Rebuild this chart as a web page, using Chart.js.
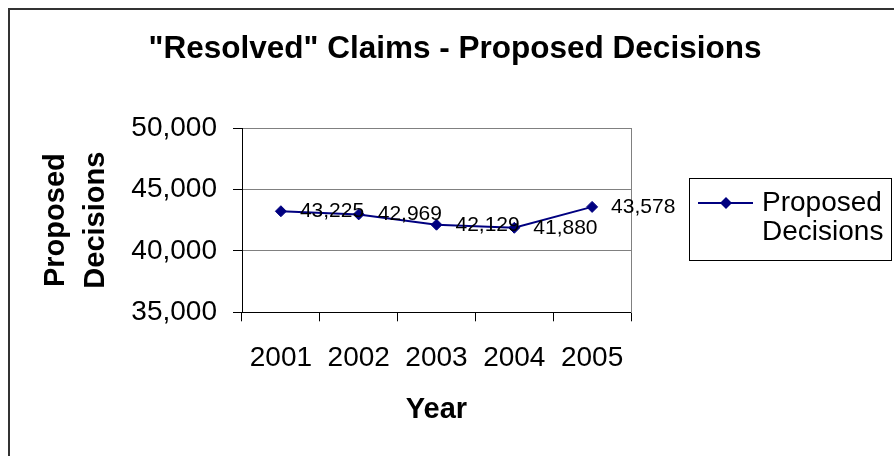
<!DOCTYPE html>
<html>
<head>
<meta charset="utf-8">
<script src="https://cdn.jsdelivr.net/npm/chart.js@4/dist/chart.umd.min.js"></script>
<style>
  html, body { margin: 0; padding: 0; background: #fff; overflow: hidden; }
  #frame { position: absolute; left: 8px; top: 8px; border: 2px solid #333; background: #fff; }
  canvas { display: block; }
</style>
</head>
<body>
<div id="frame"><canvas id="chart" width="890" height="446"></canvas></div>
<script>
// Daten
const jahre = ["2001", "2002", "2003", "2004", "2005"];
const entscheidungen = [43225, 42969, 42129, 41880, 43578];
const serienName = "Proposed Decisions";
const yMin = 35000, yMax = 50000, yStep = 5000;

const schrift = "'Liberation Sans', Arial, sans-serif";
const navy = "#000080";
const fmt = v => Number(v).toLocaleString("en-US");

// Werte neben die Punkte schreiben
const wertLabels = {
  id: "wertLabels",
  afterDatasetsDraw(chart) {
    const ctx = chart.ctx;
    const meta = chart.getDatasetMeta(0);
    ctx.save();
    ctx.font = "21px " + schrift;
    ctx.fillStyle = "#000";
    ctx.textAlign = "left";
    ctx.textBaseline = "middle";
    meta.data.forEach((pt, i) => {
      ctx.fillText(fmt(chart.data.datasets[0].data[i]), pt.x + 19, pt.y);
    });
    ctx.restore();
  }
};

// Legende mit Rahmen (zweizeilig wie im Original)
const kastenLegende = {
  id: "kastenLegende",
  afterDraw(chart) {
    const ctx = chart.ctx;
    const ds = chart.data.datasets[0];
    ctx.save();
    ctx.strokeStyle = "#000";
    ctx.lineWidth = 1;
    ctx.strokeRect(679.5, 168.5, 202, 82);
    ctx.strokeStyle = ds.borderColor;
    ctx.lineWidth = 2;
    ctx.beginPath();
    ctx.moveTo(688, 193);
    ctx.lineTo(743, 193);
    ctx.stroke();
    ctx.fillStyle = ds.backgroundColor;
    ctx.beginPath();
    ctx.moveTo(716, 187); ctx.lineTo(722, 193); ctx.lineTo(716, 199); ctx.lineTo(710, 193);
    ctx.closePath();
    ctx.fill();
    ctx.fillStyle = "#000";
    ctx.font = "28px " + schrift;
    ctx.textAlign = "left";
    ctx.textBaseline = "middle";
    const teile = ds.label.split(" ");
    ctx.fillText(teile[0], 752, 193);
    ctx.fillText(teile[1], 752, 222);
    ctx.restore();
  }
};

new Chart(document.getElementById("chart"), {
  type: "line",
  data: {
    labels: jahre,
    datasets: [{
      label: serienName,
      data: entscheidungen,
      borderColor: navy,
      backgroundColor: navy,
      borderWidth: 2,
      pointStyle: "rectRot",
      pointRadius: 5.5,
      pointBorderWidth: 1,
      tension: 0
    }]
  },
  options: {
    responsive: false,
    animation: false,
    devicePixelRatio: 1,
    layout: { padding: 0 },
    plugins: {
      legend: { display: false },
      tooltip: { enabled: false },
      title: {
        display: true,
        text: "\"Resolved\" Claims - Proposed Decisions",
        color: "#000",
        font: { family: schrift, size: 31.5, weight: "bold", lineHeight: 1.2 },
        padding: { top: 20, bottom: 60.2 }
      }
    },
    scales: {
      x: {
        offset: true,
        grid: {
          offset: true,
          drawOnChartArea: false,
          tickColor: "#000",
          tickLength: 9
        },
        border: { display: true, color: "#000", width: 1 },
        ticks: {
          color: "#000",
          padding: 19.7,
          maxRotation: 0,
          font: { family: schrift, size: 28 }
        },
        title: {
          display: true,
          text: "Year",
          color: "#000",
          font: { family: schrift, size: 29, weight: "bold", lineHeight: 1.2 },
          padding: { top: -1.7, bottom: 28.6 }
        }
      },
      y: {
        min: yMin,
        max: yMax,
        afterFit: s => { s.width = 232; },
        grid: { color: "#808080", tickColor: "#000", tickLength: 9 },
        border: { display: true, color: "#000", width: 1 },
        ticks: {
          stepSize: yStep,
          color: "#000",
          padding: 16,
          font: { family: schrift, size: 28 },
          callback: v => fmt(v)
        },
        title: {
          display: true,
          text: ["Proposed", "Decisions"],
          color: "#000",
          font: { family: schrift, size: 29, weight: "bold", lineHeight: 1.38 },
          padding: { top: 25.5, bottom: 0 }
        }
      },
      // rechte Achse nur als Rahmenlinie und Platz für die Legende
      rechts: {
        position: "right",
        min: yMin,
        max: yMax,
        afterFit: s => { s.width = 269; },
        grid: { drawOnChartArea: false, drawTicks: false },
        border: { display: true, color: "#808080", width: 1 },
        ticks: { display: false }
      }
    }
  },
  plugins: [wertLabels, kastenLegende]
});
</script>
</body>
</html>
